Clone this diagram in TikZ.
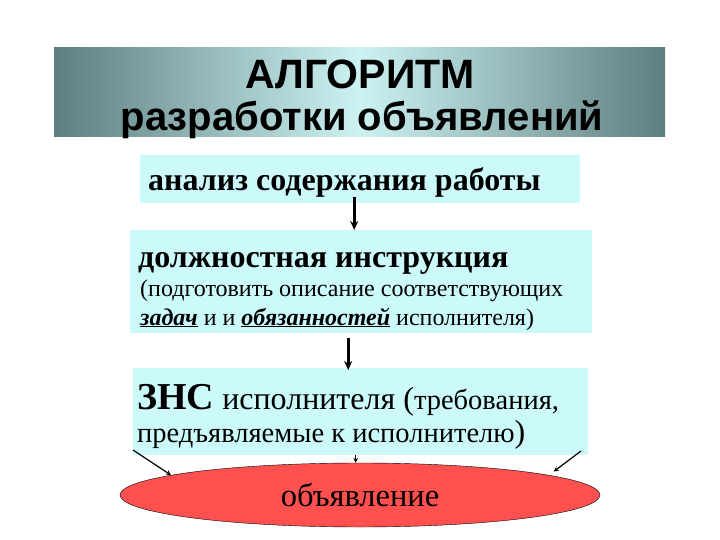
\documentclass[tikz,border=0pt]{standalone}
\usepackage{fontspec}
\setmainfont{Liberation Serif}
\newfontfamily\titlefont{Liberation Sans}
\usetikzlibrary{shapes.geometric, arrows.meta}
\definecolor{bandark}{HTML}{5E7E80}
\definecolor{banlight}{HTML}{CDF2F2}
\definecolor{boxcyan}{HTML}{CCFAFA}
\definecolor{ovalred}{HTML}{FF5050}
\newcommand{\fs}[1]{\fontsize{#1}{#1}\selectfont}

\begin{document}
\begin{tikzpicture}[x=1pt, y=-1pt, >=stealth,
    box/.style={fill=boxcyan, inner sep=0pt, anchor=north west},
    txt/.style={anchor=base west, inner sep=0pt},
    arr/.style={-{Stealth[length=9pt,width=8pt]}, line width=2.6pt},
    thinarr/.style={->, line width=1.2pt}]
\useasboundingbox (0,0) rectangle (720,540);

% title banner
\fill[left color=bandark, right color=bandark, middle color=banlight] (54,48) rectangle (665,137);
\node[inner sep=0pt, anchor=base, font=\titlefont\bfseries\fs{41}] (alg) at (360,89) {АЛГОРИТМ};
\node[inner sep=0pt, anchor=base, font=\titlefont\bfseries\fs{40}] (razr) at (362,131) {разработки объявлений};

% boxes
\node[box, minimum width=440pt, minimum height=48pt] (analiz) at (140,155) {};
\node[txt, font=\bfseries\fs{32}] at (148,191) {анализ содержания работы};

\node[box, minimum width=462pt, minimum height=103pt] (dolzh) at (130,230) {};
\node[txt, font=\bfseries\fs{32}] at (138,267) {должностная инструкция};
\node[txt, font=\fs{24}] at (140,296) {(подготовить описание соответствующих};
\node[txt, font=\fs{24}] at (140,325) {\underline{\textbf{\textit{задач}}} и и \underline{\textbf{\textit{обязанностей}}} исполнителя)};

\node[box, minimum width=455pt, minimum height=87pt] (zns) at (133,368) {};
\node[txt, font=\fs{32}] at (137,409) {{\bfseries\fs{38}ЗНС} исполнителя ({\fs{28.5}требования,}};
\node[txt, font=\fs{28.5}] at (137,442) {предъявляемые к исполнителю{\fs{32})}};

% ellipse
\node[ellipse, draw, fill=ovalred, minimum width=480pt, minimum height=64pt, inner sep=0pt, font=\fs{32.5}] (obyav) at (360,495) {объявление};

% arrows
\draw[arr] ([xshift=-6pt,yshift=6pt]analiz.south) -- ([xshift=-6pt]analiz.south |- dolzh.north);
\draw[arr] ([xshift=-13pt,yshift=-5pt]dolzh.south) -- ([xshift=-13pt,yshift=-2pt]dolzh.south |- zns.north);
\draw[thinarr] ([xshift=-5pt]zns.south) -- ([xshift=-5pt]zns.south |- obyav.north);
\coordinate (lt) at (133,450);
\coordinate (rt) at (581,451);
\draw[thinarr] (lt) -- (obyav.174);
\draw[thinarr, shorten >=6pt] (rt) -- (obyav.6);

\end{tikzpicture}
\end{document}
